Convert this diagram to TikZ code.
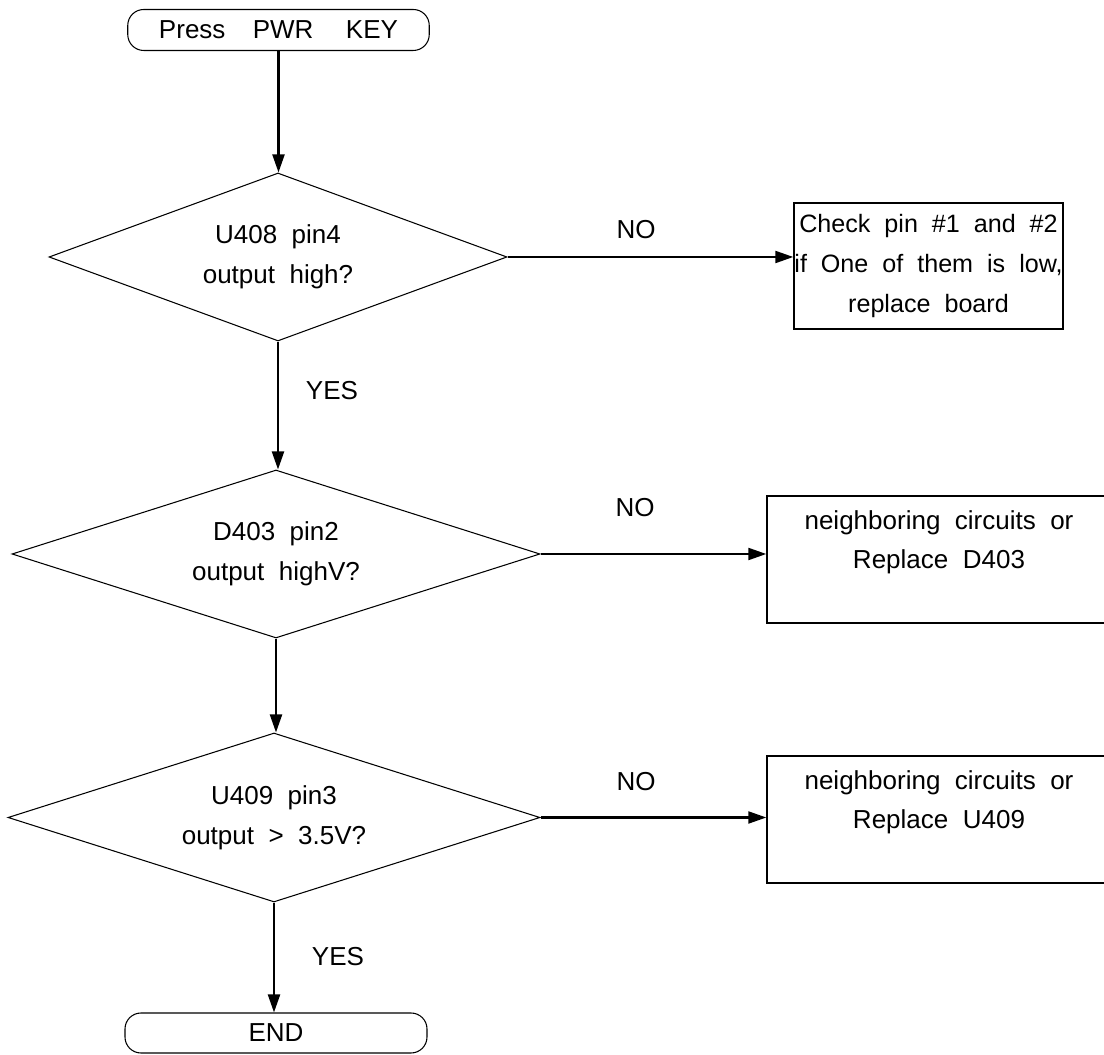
\documentclass[tikz,border=0pt]{standalone}
\usepackage{fontspec}
\setmainfont{Liberation Sans}[WordSpace=2]
\usetikzlibrary{shapes.geometric, arrows.meta}

\tikzset{
    flowtext/.style={font=\fontsize{14.8pt}{22.7pt}\selectfont, align=center},
    term/.style={flowtext, draw, line width=0.6pt, rounded corners=0.32cm,
        minimum width=6.03cm, minimum height=0.82cm, inner sep=0pt},
    decision/.style={flowtext, draw, diamond, aspect=3, line width=0.6pt, inner sep=0pt},
    actbox/.style={flowtext, draw, line width=0.8pt, inner sep=0pt},
    arr/.style={-{Triangle[length=0.36cm, width=0.24cm]}, line width=1.2pt},
}

\begin{document}
\begin{tikzpicture}[scale=1.0]
        \useasboundingbox (0,0) rectangle (22.08,21.1);

        \node[term] (start) at (5.57,20.5) {Press\hspace{1.05em}PWR\hspace{1.25em}KEY};

        \node[decision, minimum width=9.16cm, minimum height=3.36cm] (d1) at (5.56,15.96)
            {U408 pin4\\output high?};
        \node[actbox, font=\fontsize{14.3pt}{22.7pt}\selectfont,
            minimum width=5.38cm, minimum height=2.52cm] (box1) at (18.57,15.78)
            {Check pin \#1 and \#2\\if One of them is low,\\replace board};

        \node[decision, minimum width=10.56cm, minimum height=3.36cm] (d2) at (5.52,10.02)
            {D403 pin2\\output highV?};
        \node[actbox, minimum width=6.88cm, minimum height=2.54cm] (box2) at (18.78,9.91)
            {neighboring circuits or\\Replace D403\\\mbox{}};

        \node[decision, minimum width=10.64cm, minimum height=3.38cm] (d3) at (5.48,4.75)
            {U409 pin3\\output > 3.5V?};
        \node[actbox, minimum width=6.88cm, minimum height=2.54cm] (box3) at (18.78,4.71)
            {neighboring circuits or\\Replace U409\\\mbox{}};

        \node[term, minimum width=6.04cm, minimum height=0.8cm] (stop) at (5.52,0.44) {END};

        % connectors
        \draw[arr] (start) -- (start |- d1.north);
        \draw[arr] (d1.east) -- (d1.east -| box1.west);
        \draw[arr] (d1.south) -- (d1.south |- d2.north);
        \draw[arr] (d2.east) -- (d2.east -| box2.west);
        \draw[arr] (d2.south) -- (d2.south |- d3.north);
        \draw[arr] (d3.east) -- (d3.east -| box3.west);
        \draw[arr] (d3.south) -- (d3.south |- stop.north);

        % labels
        \node[flowtext] (no1) at (12.72,16.5) {NO};
        \node[flowtext] (no2) at (12.70,10.94) {NO};
        \node[flowtext] (no3) at (12.72,5.46) {NO};
        \node[flowtext] (yes1) at (6.64,13.28) {YES};
        \node[flowtext] (yes2) at (6.76,1.96) {YES};

    \end{tikzpicture}
\end{document}
